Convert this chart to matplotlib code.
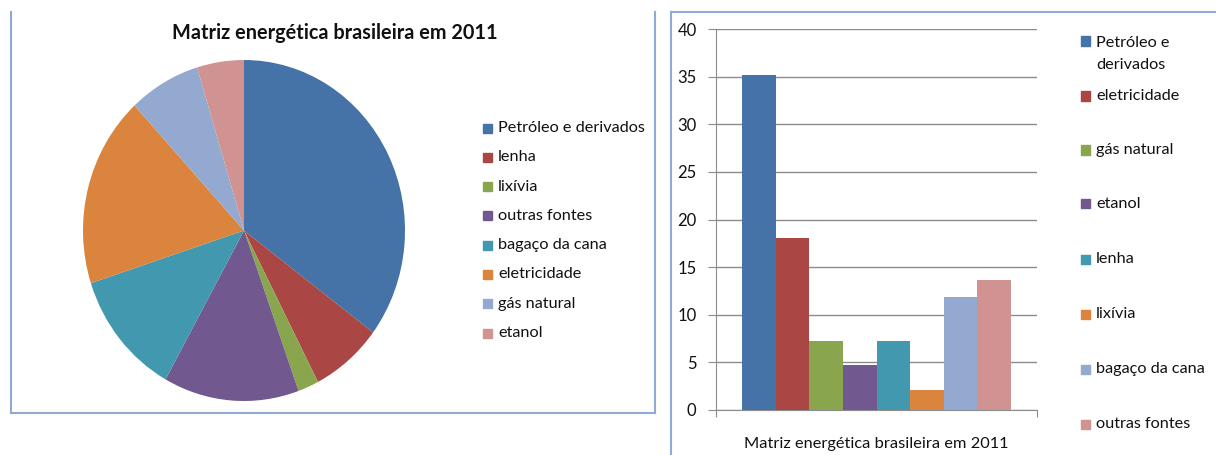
import matplotlib
matplotlib.use('Agg')
import matplotlib.pyplot as plt
from matplotlib.lines import Line2D
from matplotlib.patches import Rectangle

plt.rcParams['font.family'] = ['Lato', 'DejaVu Sans']

title = 'Matriz energética brasileira em 2011'

# pie chart (left)
pie_labels = ['Petróleo e derivados', 'lenha', 'lixívia', 'outras fontes',
              'bagaço da cana', 'eletricidade', 'gás natural', 'etanol']
pie_values = [35.2, 7.2, 2.1, 13.6, 11.9, 18.1, 7.2, 4.7]

# bar chart (right)
bar_labels = ['Petróleo e\nderivados', 'eletricidade', 'gás natural', 'etanol',
              'lenha', 'lixívia', 'bagaço da cana', 'outras fontes']
bar_values = [35.2, 18.1, 7.2, 4.7, 7.2, 2.1, 11.9, 13.6]
y_ticks = [0, 5, 10, 15, 20, 25, 30, 35, 40]

colors = ['#4572A7', '#AA4643', '#89A54E', '#71588F',
          '#4198AF', '#DB843D', '#93A9CF', '#D19392']

W, H = 1216, 455
fig = plt.figure(figsize=(W / 100, H / 100), dpi=100)

def fx(px):
    return px / W

def fy(py):
    return 1 - py / H

def box(x0, y0, x1, y1):
    return [fx(x0), fy(y1), fx(x1) - fx(x0), fy(y0) - fy(y1)]

def legend(items, x, ys, fontsize):
    for (lab, col), y in zip(items, ys):
        fig.patches.append(Rectangle((fx(x), fy(y + 4.5)), 9 / W, 9 / H,
                                     transform=fig.transFigure, color=col))
        if '\n' in lab:
            fig.text(fx(x + 15), fy(y - 5), lab, fontsize=fontsize, va='top',
                     ha='left', color='#111111', linespacing=1.7)
        else:
            fig.text(fx(x + 15), fy(y), lab, fontsize=fontsize, va='center',
                     ha='left', color='#111111')

# panel borders
border = '#8FAAD3'
for xs, ys in [([11, 11], [12, 413]), ([11, 655], [413, 413]), ([655, 655], [12, 413]),
               ([671, 671], [12, 455]), ([671, 1216], [12, 12])]:
    fig.add_artist(Line2D([fx(v) for v in xs], [fy(v) for v in ys], color=border, lw=1.5))

# left: pie
ax1 = fig.add_axes(box(83, 60, 405, 401))
ax1.pie(pie_values, colors=colors, startangle=90, counterclock=False, radius=1,
        wedgeprops=dict(linewidth=0))
ax1.set_xlim(-1, 1)
ax1.set_ylim(-1, 1)
ax1.set_aspect('auto')
fig.text(fx(335), fy(33), title, fontsize=14.3, fontweight='bold', ha='center', va='center',
         color='#111111')
legend(list(zip(pie_labels, colors)), 483, [128 + 29.3 * i for i in range(8)], 11.7)

# right: bars
ax2 = fig.add_axes(box(716, 29, 1037, 410))
x = range(len(bar_values))
ax2.bar(x, bar_values, width=1.0, color=colors, zorder=3)
ax2.set_xlim(-0.5 - 0.77, len(bar_values) - 0.5 + 0.77)
ax2.set_ylim(0, 40)
ax2.set_yticks(y_ticks)
ax2.set_yticklabels([str(t) for t in y_ticks], fontsize=12)
ax2.set_xticks(ax2.get_xlim())
ax2.set_xticklabels([])
ax2.yaxis.grid(True, color='#8C8C8C', lw=1, zorder=0)
ax2.tick_params(axis='y', length=6, color='#8C8C8C', pad=8, labelcolor='#111111')
ax2.tick_params(axis='x', length=5, color='#8C8C8C')
for s in ['top', 'right']:
    ax2.spines[s].set_visible(False)
for s in ['left', 'bottom']:
    ax2.spines[s].set_color('#8C8C8C')
ax2.set_xlabel(title, fontsize=11.8, labelpad=11, color='#111111')
legend(list(zip(bar_labels, colors)), 1081, [41, 96, 150, 204, 259, 314, 369, 424], 11.7)

fig.savefig('out.png', dpi=100)
